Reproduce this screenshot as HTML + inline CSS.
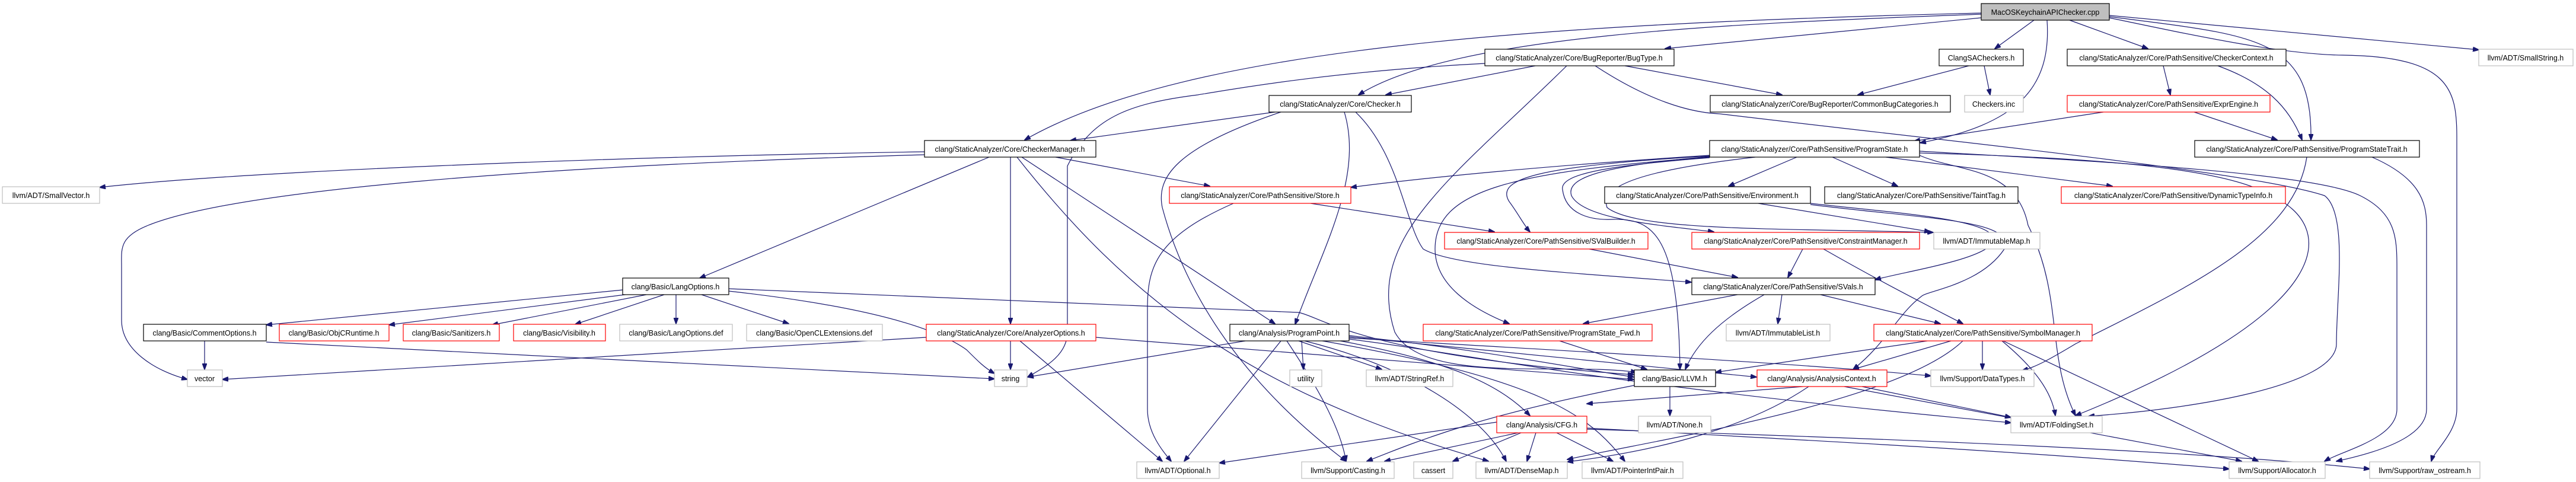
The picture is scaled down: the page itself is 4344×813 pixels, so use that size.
<!DOCTYPE html>
<html><head><meta charset="utf-8"><style>
html,body{margin:0;padding:0;background:#fff;}
svg{display:block;}
text{font-family:"Liberation Sans",sans-serif;font-size:12.5px;fill:#000;text-anchor:middle;}
.e{fill:none;stroke:#191970;stroke-width:1.2;marker-end:url(#a);}
</style></head><body>
<svg width="4344" height="813" viewBox="0 0 4344 813" xmlns="http://www.w3.org/2000/svg">
<defs><marker id="a" markerWidth="11" markerHeight="8" refX="10" refY="4" orient="auto" markerUnits="userSpaceOnUse"><path d="M0,0 L11,4 L0,8z" fill="#191970" stroke="#191970"/></marker></defs>
<g>
<path class="e" d="M3430,34 L3364,82"/>
<path class="e" d="M3490,34 L3622,82"/>
<path class="e" d="M3557,26 L4180,84"/>
<path class="e" d="M3557,28 C3800,60 3900,60 3897,236"/>
<path class="e" d="M3557,30 C3700,60 3850,92 3950,93 C4130,95 4143,150 4143,230 L4143,690 C4143,730 4105,760 4100,778"/>
<path class="e" d="M3452,34 C3460,150 3400,210 3238,241"/>
<path class="e" d="M3341,30 L2808,82"/>
<path class="e" d="M3341,24 C2900,40 2450,60 2291,160"/>
<path class="e" d="M3341,22 C2600,40 2000,80 1728,236"/>
<path class="e" d="M2504,107 C2250,120 2080,150 2020,160 C1900,175 1840,200 1800,280 L1800,560 C1800,600 1760,620 1733,636"/>
<path class="e" d="M2589,111 L2337,160"/>
<path class="e" d="M2642,111 C2450,300 2300,400 2352,560 C2400,650 2640,610 2760,628"/>
<path class="e" d="M2740,111 L3005,160"/>
<path class="e" d="M2690,111 C2780,170 2850,190 2900,192 C3300,240 3800,290 3920,330 C3960,360 3940,500 3940,580 C3940,650 3700,690 3522,702"/>
<path class="e" d="M3320,111 L3133,160"/>
<path class="e" d="M3346,111 L3356,160"/>
<path class="e" d="M3648,111 L3660,160"/>
<path class="e" d="M3740,111 C3820,140 3860,180 3882,236"/>
<path class="e" d="M3547,189 L3228,238"/>
<path class="e" d="M3700,189 L3840,236"/>
<path class="e" d="M2150,189 L1805,237"/>
<path class="e" d="M2160,189 C1980,250 1950,300 1960,350 C2000,500 2100,650 2270,778"/>
<path class="e" d="M2286,189 C2360,260 2370,380 2400,420 C2450,450 2650,460 2852,476"/>
<path class="e" d="M2267,189 C2300,300 2230,420 2184,547"/>
<path class="e" d="M1559,256 C1000,265 400,290 168,316"/>
<path class="e" d="M1559,261 C900,280 400,320 250,380 C200,400 205,420 205,450 L205,540 C205,590 260,625 316,640"/>
<path class="e" d="M1668,265 L1180,469"/>
<path class="e" d="M1704,265 L1704,546"/>
<path class="e" d="M1780,265 L2040,314"/>
<path class="e" d="M1723,265 L2150,546"/>
<path class="e" d="M1715,265 C1900,500 2100,660 2510,778"/>
<path class="e" d="M2080,343 C1950,400 1935,450 1935,520 L1935,690 C1935,730 1960,760 1975,778"/>
<path class="e" d="M2210,343 L2520,391"/>
<path class="e" d="M2883,262 C2600,280 2400,300 2278,316"/>
<path class="e" d="M3030,265 L2915,314"/>
<path class="e" d="M3090,265 L3200,314"/>
<path class="e" d="M3180,265 L3562,314"/>
<path class="e" d="M2883,263 C2600,280 2520,300 2545,340 C2560,360 2570,380 2580,391"/>
<path class="e" d="M2883,264 C2700,280 2640,300 2650,330 C2670,370 2800,380 2890,391"/>
<path class="e" d="M2883,265 C2550,290 2420,320 2420,420 C2420,480 2480,520 2545,546"/>
<path class="e" d="M2883,266 C2700,280 2630,295 2635,320 C2640,360 2680,372 2720,370 C2790,368 2830,400 2833,623"/>
<path class="e" d="M2960,265 C2740,290 2700,320 2710,350 C2760,390 3000,385 3260,392"/>
<path class="e" d="M3237,262 C3300,290 3400,280 3420,380 C3480,500 3450,600 3500,701"/>
<path class="e" d="M3237,255 C3500,270 3900,290 3980,330 C4040,360 4042,400 4042,450 L4042,690 C4042,740 3950,760 3920,778"/>
<path class="e" d="M3237,258 C3500,265 3750,280 3830,330 C3940,380 3950,520 3500,701"/>
<path class="e" d="M2965,343 L3255,391"/>
<path class="e" d="M3053,343 C3200,360 3380,370 3360,410 C3340,440 3200,460 3162,472"/>
<path class="e" d="M3053,345 C3250,370 3400,370 3380,420 C3340,480 3250,490 3240,500 C3200,530 3180,580 3125,623"/>
<path class="e" d="M3040,420 L3015,468"/>
<path class="e" d="M3075,420 C3180,480 3260,520 3310,546"/>
<path class="e" d="M2680,420 L2930,468"/>
<path class="e" d="M2930,497 L2670,546"/>
<path class="e" d="M2975,497 C2900,540 2860,580 2842,623"/>
<path class="e" d="M3005,497 L2998,546"/>
<path class="e" d="M3070,497 L3272,546"/>
<path class="e" d="M2630,575 L2777,623"/>
<path class="e" d="M3250,575 L2893,628"/>
<path class="e" d="M3290,575 L3125,623"/>
<path class="e" d="M3343,575 L3343,623"/>
<path class="e" d="M3376,575 C3430,620 3460,660 3466,701"/>
<path class="e" d="M3378,575 L3808,778"/>
<path class="e" d="M3310,575 C3200,680 2800,740 2643,775"/>
<path class="e" d="M2100,575 L1733,636"/>
<path class="e" d="M2160,575 L1997,778"/>
<path class="e" d="M2195,575 L2198,623"/>
<path class="e" d="M2190,575 L2330,623"/>
<path class="e" d="M2275,566 C2500,590 2650,620 2755,636"/>
<path class="e" d="M2275,568 C2500,590 2800,620 2962,636"/>
<path class="e" d="M2275,570 C2600,590 3000,610 3256,634"/>
<path class="e" d="M2170,575 C2220,650 2260,720 2270,778"/>
<path class="e" d="M2200,575 C2380,620 2500,700 2540,778"/>
<path class="e" d="M2230,575 C2600,640 2680,700 2740,778"/>
<path class="e" d="M2275,572 C2500,600 2700,650 3391,713"/>
<path class="e" d="M2260,575 C2450,610 2530,650 2580,701"/>
<path class="e" d="M1050,489 L449,548"/>
<path class="e" d="M1070,495 L656,548"/>
<path class="e" d="M1090,497 L830,548"/>
<path class="e" d="M1120,497 L970,547"/>
<path class="e" d="M1140,497 L1140,546"/>
<path class="e" d="M1183,497 L1330,546"/>
<path class="e" d="M1229,491 C1400,510 1560,540 1630,590 C1650,610 1660,620 1677,630"/>
<path class="e" d="M1229,487 L2190,527 C2230,535 2300,600 2755,632"/>
<path class="e" d="M345,575 L345,623"/>
<path class="e" d="M449,577 L1677,639"/>
<path class="e" d="M1704,575 L1704,623"/>
<path class="e" d="M1562,569 L375,640"/>
<path class="e" d="M1720,575 L1960,778"/>
<path class="e" d="M1848,569 L2755,640"/>
<path class="e" d="M3890,265 C3870,400 3700,480 3500,580 C3450,610 3430,620 3410,625"/>
<path class="e" d="M4000,265 C4080,300 4092,340 4092,380 L4092,690 C4092,740 4000,765 3940,778"/>
<path class="e" d="M3040,652 L2676,681"/>
<path class="e" d="M3050,652 C2950,720 2800,760 2643,779"/>
<path class="e" d="M3110,652 L3780,778"/>
<path class="e" d="M3140,652 L3391,704"/>
<path class="e" d="M2524,712 L2056,781"/>
<path class="e" d="M2560,730 L2335,778"/>
<path class="e" d="M2565,730 L2450,778"/>
<path class="e" d="M2590,730 L2575,778"/>
<path class="e" d="M2625,730 L2720,778"/>
<path class="e" d="M2676,722 C3000,740 3400,760 3759,791"/>
<path class="e" d="M2676,724 C3200,740 3700,760 3996,791"/>
<path class="e" d="M2816,652 L2816,701"/>
<path class="e" d="M2756,650 C2500,700 2400,740 2305,778"/>
</g>
<g stroke-width="1.2">
<rect x="3341" y="6" width="216" height="28" fill="#bfbfbf" stroke="#000"/><text x="3449" y="25">MacOSKeychainAPIChecker.cpp</text>
<rect x="2504" y="83" width="319" height="28" fill="#fff" stroke="#000"/><text x="2663" y="102">clang/StaticAnalyzer/Core/BugReporter/BugType.h</text>
<rect x="3270" y="83" width="142" height="28" fill="#fff" stroke="#000"/><text x="3341" y="102">ClangSACheckers.h</text>
<rect x="3486" y="83" width="369" height="28" fill="#fff" stroke="#000"/><text x="3670" y="102">clang/StaticAnalyzer/Core/PathSensitive/CheckerContext.h</text>
<rect x="4180" y="83" width="159" height="28" fill="#fff" stroke="#bfbfbf"/><text x="4259" y="102">llvm/ADT/SmallString.h</text>
<rect x="2140" y="161" width="240" height="28" fill="#fff" stroke="#000"/><text x="2260" y="180">clang/StaticAnalyzer/Core/Checker.h</text>
<rect x="2884" y="161" width="405" height="28" fill="#fff" stroke="#000"/><text x="3086" y="180">clang/StaticAnalyzer/Core/BugReporter/CommonBugCategories.h</text>
<rect x="3313" y="161" width="99" height="28" fill="#fff" stroke="#bfbfbf"/><text x="3362" y="180">Checkers.inc</text>
<rect x="3486" y="161" width="342" height="28" fill="#fff" stroke="#f00"/><text x="3657" y="180">clang/StaticAnalyzer/Core/PathSensitive/ExprEngine.h</text>
<rect x="1559" y="237" width="289" height="28" fill="#fff" stroke="#000"/><text x="1703" y="256">clang/StaticAnalyzer/Core/CheckerManager.h</text>
<rect x="2883" y="237" width="354" height="28" fill="#fff" stroke="#000"/><text x="3060" y="256">clang/StaticAnalyzer/Core/PathSensitive/ProgramState.h</text>
<rect x="3701" y="237" width="379" height="28" fill="#fff" stroke="#000"/><text x="3890" y="256">clang/StaticAnalyzer/Core/PathSensitive/ProgramStateTrait.h</text>
<rect x="4" y="315" width="164" height="28" fill="#fff" stroke="#bfbfbf"/><text x="86" y="334">llvm/ADT/SmallVector.h</text>
<rect x="1972" y="315" width="306" height="28" fill="#fff" stroke="#f00"/><text x="2125" y="334">clang/StaticAnalyzer/Core/PathSensitive/Store.h</text>
<rect x="2706" y="315" width="347" height="28" fill="#fff" stroke="#000"/><text x="2879" y="334">clang/StaticAnalyzer/Core/PathSensitive/Environment.h</text>
<rect x="3077" y="315" width="326" height="28" fill="#fff" stroke="#000"/><text x="3240" y="334">clang/StaticAnalyzer/Core/PathSensitive/TaintTag.h</text>
<rect x="3476" y="315" width="378" height="28" fill="#fff" stroke="#f00"/><text x="3665" y="334">clang/StaticAnalyzer/Core/PathSensitive/DynamicTypeInfo.h</text>
<rect x="2436" y="392" width="343" height="28" fill="#fff" stroke="#f00"/><text x="2607" y="411">clang/StaticAnalyzer/Core/PathSensitive/SValBuilder.h</text>
<rect x="2853" y="392" width="384" height="28" fill="#fff" stroke="#f00"/><text x="3045" y="411">clang/StaticAnalyzer/Core/PathSensitive/ConstraintManager.h</text>
<rect x="3261" y="392" width="179" height="28" fill="#fff" stroke="#bfbfbf"/><text x="3350" y="411">llvm/ADT/ImmutableMap.h</text>
<rect x="1050" y="469" width="179" height="28" fill="#fff" stroke="#000"/><text x="1139" y="488">clang/Basic/LangOptions.h</text>
<rect x="2853" y="469" width="309" height="28" fill="#fff" stroke="#000"/><text x="3007" y="488">clang/StaticAnalyzer/Core/PathSensitive/SVals.h</text>
<rect x="242" y="547" width="207" height="28" fill="#fff" stroke="#000"/><text x="345" y="566">clang/Basic/CommentOptions.h</text>
<rect x="471" y="547" width="185" height="28" fill="#fff" stroke="#f00"/><text x="563" y="566">clang/Basic/ObjCRuntime.h</text>
<rect x="680" y="547" width="162" height="28" fill="#fff" stroke="#f00"/><text x="761" y="566">clang/Basic/Sanitizers.h</text>
<rect x="866" y="547" width="155" height="28" fill="#fff" stroke="#f00"/><text x="943" y="566">clang/Basic/Visibility.h</text>
<rect x="1045" y="547" width="190" height="28" fill="#fff" stroke="#bfbfbf"/><text x="1140" y="566">clang/Basic/LangOptions.def</text>
<rect x="1259" y="547" width="229" height="28" fill="#fff" stroke="#bfbfbf"/><text x="1373" y="566">clang/Basic/OpenCLExtensions.def</text>
<rect x="1562" y="547" width="286" height="28" fill="#fff" stroke="#f00"/><text x="1705" y="566">clang/StaticAnalyzer/Core/AnalyzerOptions.h</text>
<rect x="2074" y="547" width="201" height="28" fill="#fff" stroke="#000"/><text x="2174" y="566">clang/Analysis/ProgramPoint.h</text>
<rect x="2400" y="547" width="386" height="28" fill="#fff" stroke="#f00"/><text x="2593" y="566">clang/StaticAnalyzer/Core/PathSensitive/ProgramState_Fwd.h</text>
<rect x="2911" y="547" width="175" height="28" fill="#fff" stroke="#bfbfbf"/><text x="2998" y="566">llvm/ADT/ImmutableList.h</text>
<rect x="3160" y="547" width="368" height="28" fill="#fff" stroke="#f00"/><text x="3344" y="566">clang/StaticAnalyzer/Core/PathSensitive/SymbolManager.h</text>
<rect x="316" y="624" width="59" height="28" fill="#fff" stroke="#bfbfbf"/><text x="345" y="643">vector</text>
<rect x="1677" y="624" width="55" height="28" fill="#fff" stroke="#bfbfbf"/><text x="1704" y="643">string</text>
<rect x="2175" y="624" width="54" height="28" fill="#fff" stroke="#bfbfbf"/><text x="2202" y="643">utility</text>
<rect x="2304" y="624" width="146" height="28" fill="#fff" stroke="#bfbfbf"/><text x="2377" y="643">llvm/ADT/StringRef.h</text>
<rect x="2756" y="624" width="137" height="28" fill="#fff" stroke="#000"/><text x="2824" y="643">clang/Basic/LLVM.h</text>
<rect x="2963" y="624" width="219" height="28" fill="#fff" stroke="#f00"/><text x="3072" y="643">clang/Analysis/AnalysisContext.h</text>
<rect x="3256" y="624" width="174" height="28" fill="#fff" stroke="#bfbfbf"/><text x="3343" y="643">llvm/Support/DataTypes.h</text>
<rect x="2524" y="702" width="152" height="28" fill="#fff" stroke="#f00"/><text x="2600" y="721">clang/Analysis/CFG.h</text>
<rect x="2763" y="702" width="122" height="28" fill="#fff" stroke="#bfbfbf"/><text x="2824" y="721">llvm/ADT/None.h</text>
<rect x="3391" y="702" width="154" height="28" fill="#fff" stroke="#bfbfbf"/><text x="3468" y="721">llvm/ADT/FoldingSet.h</text>
<rect x="1917" y="779" width="139" height="28" fill="#fff" stroke="#bfbfbf"/><text x="1986" y="798">llvm/ADT/Optional.h</text>
<rect x="2195" y="779" width="156" height="28" fill="#fff" stroke="#bfbfbf"/><text x="2273" y="798">llvm/Support/Casting.h</text>
<rect x="2384" y="779" width="66" height="28" fill="#fff" stroke="#bfbfbf"/><text x="2417" y="798">cassert</text>
<rect x="2489" y="779" width="154" height="28" fill="#fff" stroke="#bfbfbf"/><text x="2566" y="798">llvm/ADT/DenseMap.h</text>
<rect x="2668" y="779" width="170" height="28" fill="#fff" stroke="#bfbfbf"/><text x="2753" y="798">llvm/ADT/PointerIntPair.h</text>
<rect x="3759" y="779" width="162" height="28" fill="#fff" stroke="#bfbfbf"/><text x="3840" y="798">llvm/Support/Allocator.h</text>
<rect x="3996" y="779" width="186" height="28" fill="#fff" stroke="#bfbfbf"/><text x="4089" y="798">llvm/Support/raw_ostream.h</text>
</g>
</svg>
</body></html>
